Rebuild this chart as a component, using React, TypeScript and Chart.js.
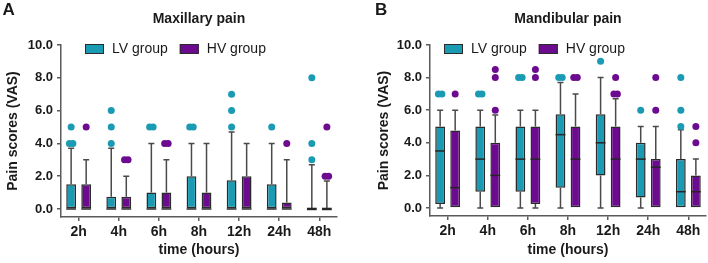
import React, { useEffect, useRef } from 'react';
import { Chart, registerables } from 'chart.js';

Chart.register(...registerables);

// ---------------- data ----------------
const categories = ['2h', '4h', '6h', '8h', '12h', '24h', '48h'];
const yTicks = [0, 2, 4, 6, 8, 10];
const seriesNames = ['LV group', 'HV group'];

// Panel A – Maxillary pain
const maxLvMin = [0, 0, 0, 0, 0, 0, 0];
const maxLvQ1 = [0, 0, 0, 0, 0, 0, 0];
const maxLvMedian = [0, 0, 0, 0, 0, 0, 0];
const maxLvQ3 = [1.5, 0.75, 1, 2, 1.75, 1.5, 0];
const maxLvMax = [3.7, 3.7, 4, 4, 4.7, 4, 2.7];
const maxLvOutliers = [[4, 4, 5], [4, 5, 6], [5, 5], [5, 5], [5, 6, 7], [5], [3, 4, 8]];

const maxHvMin = [0, 0, 0, 0, 0, 0, 0];
const maxHvQ1 = [0, 0, 0, 0, 0, 0, 0];
const maxHvMedian = [0, 0, 0, 0, 0, 0, 0];
const maxHvQ3 = [1.5, 0.75, 1, 1, 2, 0.4, 0];
const maxHvMax = [3, 2, 3, 4, 4, 3, 1.7];
const maxHvOutliers = [[5], [3, 3], [4, 4], [], [], [4], [2, 2, 5]];

// Panel B – Mandibular pain
const manLvMin = [0, 0, 0, 0, 0, 0, 0];
const manLvQ1 = [0.25, 1, 1, 1.25, 2, 0.65, 0];
const manLvMedian = [3.5, 3, 3, 4.5, 4, 3, 1];
const manLvQ3 = [5, 5, 5, 5.75, 5.75, 4, 3];
const manLvMax = [6, 6, 6, 7.7, 8, 5, 4.8];
const manLvOutliers = [[7, 7], [7, 7], [8, 8], [8, 8], [9], [6], [5, 6, 8]];

const manHvMin = [0, 0, 0, 0, 0, 0, 0];
const manHvQ1 = [0, 0, 0.25, 0, 0, 0, 0];
const manHvMedian = [1.25, 2, 3, 3, 3, 2.5, 1];
const manHvQ3 = [4.75, 4, 5, 5, 5, 3, 2];
const manHvMax = [6, 5.7, 6, 7, 6.7, 5, 3];
const manHvOutliers = [[7], [6, 8, 8.5], [8, 8.5], [8, 8], [7, 7, 8], [6, 8], [4, 5]];

// ---------------- styles ----------------
const LV_COLOR = '#1a9bb3';
const HV_COLOR = '#6c0b8f';
const AXIS = '#5a5a5a';
const TEXT = '#1a1a1a';
const FONT = "'Liberation Sans', Arial, Helvetica, sans-serif";

type Box = {
  min: number[];
  q1: number[];
  median: number[];
  q3: number[];
  max: number[];
  outliers: number[][];
};

type PanelCfg = {
  letter: string;
  title: string;
  boxes: Box[];
  padLeft: number;
  padRight: number;
  yWidth: number;
  xHeight: number;
  legendX: number;
  letterX: number;
};

const panelA: PanelCfg = {
  letter: 'A',
  title: 'Maxillary pain',
  boxes: [
    { min: maxLvMin, q1: maxLvQ1, median: maxLvMedian, q3: maxLvQ3, max: maxLvMax, outliers: maxLvOutliers },
    { min: maxHvMin, q1: maxHvQ1, median: maxHvMedian, q3: maxHvQ3, max: maxHvMax, outliers: maxHvOutliers },
  ],
  padLeft: 0,
  padRight: 17,
  yWidth: 61,
  xHeight: 46,
  legendX: 85,
  letterX: 2.5,
};

const panelB: PanelCfg = {
  letter: 'B',
  title: 'Mandibular pain',
  boxes: [
    { min: manLvMin, q1: manLvQ1, median: manLvMedian, q3: manLvQ3, max: manLvMax, outliers: manLvOutliers },
    { min: manHvMin, q1: manHvQ1, median: manHvMedian, q3: manHvQ3, max: manHvMax, outliers: manHvOutliers },
  ],
  padLeft: 17,
  padRight: 2,
  yWidth: 59,
  xHeight: 47,
  legendX: 90,
  letterX: 21,
};

const colors = [LV_COLOR, HV_COLOR];

function makePlugin(cfg: PanelCfg) {
  return {
    id: 'boxExtras',
    beforeDatasetsDraw(chart: any) {
      const ctx = chart.ctx;
      const ys = chart.scales.y;
      ctx.save();
      ctx.strokeStyle = '#4a4a4a';
      ctx.lineWidth = 1.5;
      chart.data.datasets.forEach((_ds: any, di: number) => {
        const box = cfg.boxes[di];
        const meta = chart.getDatasetMeta(di);
        meta.data.forEach((bar: any, i: number) => {
          const { x } = bar.getProps(['x'], true);
          const cap = 3;
          const seg = (a: number, b: number) => {
            const pa = ys.getPixelForValue(a);
            const pb = ys.getPixelForValue(b);
            ctx.beginPath();
            ctx.moveTo(x, pa);
            ctx.lineTo(x, pb);
            ctx.moveTo(x - cap, pb);
            ctx.lineTo(x + cap, pb);
            ctx.stroke();
          };
          if (box.max[i] > box.q3[i]) seg(box.q3[i], box.max[i]);
          if (box.min[i] < box.q1[i]) seg(box.q1[i], box.min[i]);
        });
      });
      ctx.restore();
    },
    afterDatasetsDraw(chart: any) {
      const ctx = chart.ctx;
      const ys = chart.scales.y;
      ctx.save();
      chart.data.datasets.forEach((_ds: any, di: number) => {
        const box = cfg.boxes[di];
        const meta = chart.getDatasetMeta(di);
        meta.data.forEach((bar: any, i: number) => {
          const { x, width } = bar.getProps(['x', 'width'], true);
          // median
          const degenerate = box.q1[i] === box.q3[i];
          const pm = ys.getPixelForValue(box.median[i]);
          ctx.strokeStyle = '#262626';
          ctx.lineWidth = degenerate ? 2.5 : 1.5;
          ctx.beginPath();
          ctx.moveTo(x - width / 2, pm);
          ctx.lineTo(x + width / 2, pm);
          ctx.stroke();
          // outliers (identical values spread sideways)
          const counts = new Map<number, number>();
          box.outliers[i].forEach((v) => counts.set(v, (counts.get(v) || 0) + 1));
          ctx.fillStyle = colors[di];
          counts.forEach((n, v) => {
            const py = ys.getPixelForValue(v);
            for (let k = 0; k < n; k++) {
              const dx = (k - (n - 1) / 2) * 3.5;
              ctx.beginPath();
              ctx.arc(x + dx, py, 3.5, 0, Math.PI * 2);
              ctx.fill();
            }
          });
        });
      });
      ctx.restore();
    },
    afterDraw(chart: any) {
      const ctx = chart.ctx;
      const ca = chart.chartArea;
      ctx.save();
      // panel letter
      ctx.fillStyle = TEXT;
      ctx.textBaseline = 'alphabetic';
      ctx.textAlign = 'left';
      ctx.font = `bold 17px ${FONT}`;
      ctx.fillText(cfg.letter, cfg.letterX, 15.3);
      // title
      ctx.font = `bold 14px ${FONT}`;
      ctx.textAlign = 'center';
      ctx.fillText(cfg.title, (ca.left + ca.right) / 2, 22.7);
      // legend
      ctx.textAlign = 'left';
      ctx.textBaseline = 'middle';
      ctx.font = `14px ${FONT}`;
      let lx = cfg.legendX;
      const ly = 49;
      seriesNames.forEach((name, si) => {
        ctx.fillStyle = colors[si];
        ctx.fillRect(lx, ly - 5, 19, 10);
        ctx.strokeStyle = '#2b2b2b';
        ctx.lineWidth = 1;
        ctx.strokeRect(lx + 0.5, ly - 4.5, 18, 9);
        ctx.fillStyle = TEXT;
        ctx.fillText(name, lx + 27, ly + 0.5);
        lx += 27 + ctx.measureText(name).width + 12;
      });
      ctx.restore();
    },
  };
}

function buildConfig(cfg: PanelCfg): any {
  return {
    type: 'bar',
    data: {
      datasets: cfg.boxes.map((box, di) => ({
        label: seriesNames[di],
        data: categories.map((_c, i) => ({ x: i, y: [box.q1[i], box.q3[i]] })),
        backgroundColor: colors[di],
        borderColor: '#2b2b2b',
        borderWidth: 1.5,
        borderSkipped: false,
        categoryPercentage: 0.75,
        barPercentage: 0.65,
      })),
    },
    options: {
      responsive: false,
      animation: false,
      events: [],
      layout: { padding: { left: cfg.padLeft, right: cfg.padRight, top: 45, bottom: 0 } },
      plugins: {
        legend: { display: false },
        title: { display: false },
        tooltip: { enabled: false },
      },
      scales: {
        x: {
          type: 'linear',
          min: -0.44,
          max: 6.44,
          offset: false,
          afterBuildTicks: (s: any) => {
            s.ticks = categories.map((_c, i) => ({ value: i }));
          },
          afterFit: (s: any) => {
            s.height = cfg.xHeight;
          },
          ticks: {
            autoSkip: false,
            maxRotation: 0,
            callback: (v: any) => categories[Math.round(Number(v))],
            font: { family: FONT, size: 14, weight: 'bold' },
            color: TEXT,
            padding: 2.5,
          },
          grid: {
            display: true,
            offset: false,
            drawOnChartArea: false,
            drawTicks: true,
            tickLength: 4,
            color: AXIS,
            lineWidth: 1.5,
          },
          border: { display: true, color: AXIS, width: 1.5 },
          title: {
            display: true,
            text: 'time (hours)',
            font: { family: FONT, size: 14, weight: 'bold' },
            color: TEXT,
            padding: { top: 0, bottom: 4.6 },
          },
        },
        y: {
          min: -0.49,
          max: 10,
          afterBuildTicks: (s: any) => {
            s.ticks = yTicks.map((v) => ({ value: v }));
          },
          afterFit: (s: any) => {
            s.width = cfg.yWidth;
          },
          ticks: {
            callback: (v: any) => Number(v).toFixed(1),
            font: { family: FONT, size: 13, weight: 'bold' },
            color: TEXT,
            padding: 4,
          },
          grid: {
            display: true,
            drawOnChartArea: false,
            drawTicks: true,
            tickLength: 4,
            color: AXIS,
            lineWidth: 1.5,
          },
          border: { display: true, color: AXIS, width: 1.5 },
          title: {
            display: true,
            text: 'Pain scores (VAS)',
            font: { family: FONT, size: 14, weight: 'bold' },
            color: TEXT,
            padding: { top: 5.1, bottom: 0 },
          },
        },
      },
    },
    plugins: [makePlugin(cfg)],
  };
}

function Panel({ cfg, left }: { cfg: PanelCfg; left: number }) {
  const ref = useRef<HTMLCanvasElement>(null);
  useEffect(() => {
    if (!ref.current) return;
    const chart = new Chart(ref.current, buildConfig(cfg));
    return () => chart.destroy();
  }, [cfg]);
  return (
    <canvas
      ref={ref}
      width={354}
      height={263}
      style={{ position: 'absolute', left, top: 0, width: 354, height: 263 }}
    />
  );
}

export default function App() {
  return (
    <div style={{ position: 'absolute', left: 0, top: 0, width: 708, height: 263, background: '#ffffff' }}>
      <Panel cfg={panelA} left={0} />
      <Panel cfg={panelB} left={354} />
    </div>
  );
}
